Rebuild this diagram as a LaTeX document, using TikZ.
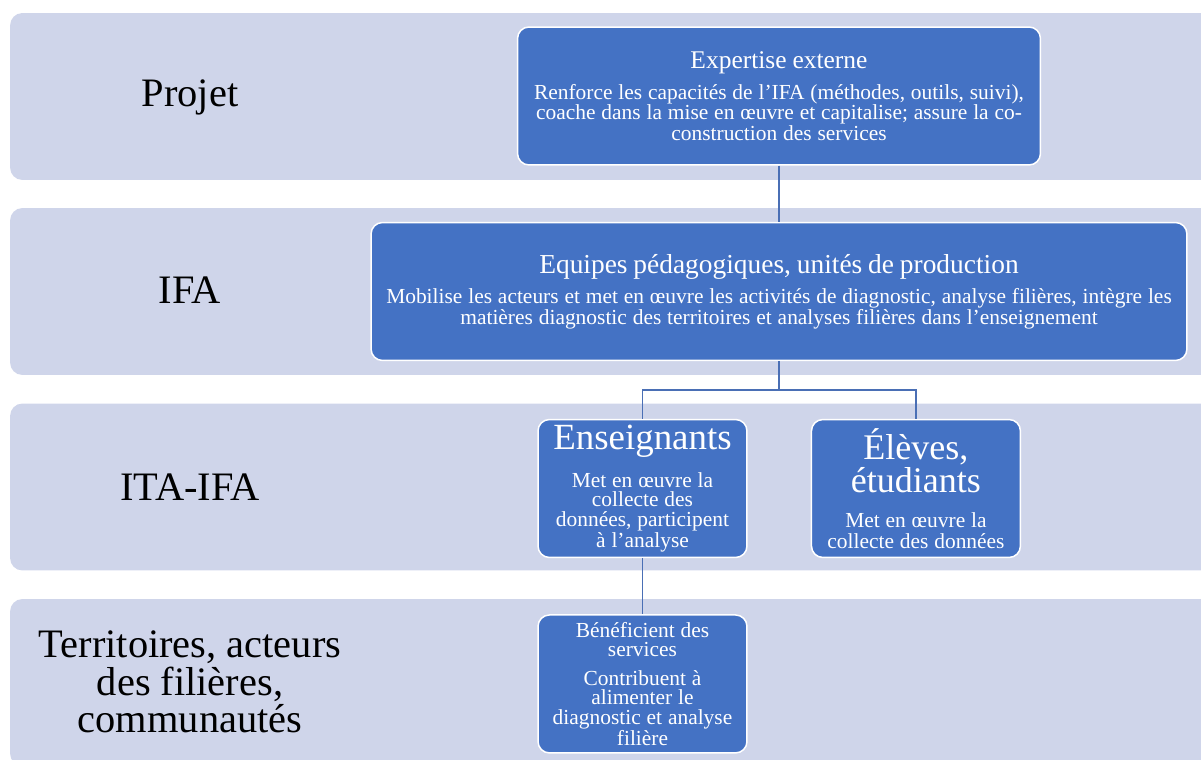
\documentclass[tikz,border=0pt]{standalone}
\usepackage{fontspec}
\setmainfont{Liberation Serif}
\usepackage{xcolor}
\usetikzlibrary{positioning}
\definecolor{bandfill}{HTML}{CFD5EA}
\definecolor{boxfill}{HTML}{4472C4}
\definecolor{linkblue}{HTML}{4A6FB5}
\newcommand\bandfont{\fontsize{23}{21.3}\selectfont}
\newcommand\boxbody{\fontsize{12.2}{11.2}\selectfont}
\newcommand\headsize[2]{\fontsize{#1}{#2}\selectfont}
\tikzset{
  band/.style={fill=bandfill, rounded corners=7pt, minimum width=24.2cm, minimum height=3.34cm, inner sep=0pt},
  bandlabel/.style={font=\bandfont, align=center, text=black},
  rolebox/.style={fill=boxfill, draw=white, line width=0.85pt, rounded corners=6.5pt, text=white,
                  inner sep=1pt, minimum height=2.76cm,
                  execute at begin node={\centering\lineskiplimit=-50pt\relax}},
  small/.style={minimum width=4.18cm, text width=4.11cm},
  link/.style={draw=linkblue, line width=0.85pt},
}

\begin{document}
\begin{tikzpicture}[x=0.02cm, y=-0.02cm]
  \useasboundingbox (0,0) rectangle (1201,760);
  \clip (0,0) rectangle (1201,760);

  % bands
  \node[band] (band1) at (615,96.5) {};
  \node[band] (band2) at (615,291.5) {};
  \node[band] (band3) at (615,487) {};
  \node[band] (band4) at (615,682.5) {};

  \node[bandlabel] (lab1) at (190,97) {Projet};
  \node[bandlabel] (lab2) at (190,290) {IFA};
  \node[bandlabel] (lab3) at (190,487) {ITA-IFA};
  \node[bandlabel] (lab4) at (190,682) {Territoires, acteurs\\des filières,\\communautés};

  % boxes
  \node[rolebox, minimum width=10.46cm, text width=10.39cm] (expert) at (779,96)
    {\headsize{14.5}{14.5}Expertise externe\\[6.9pt]
     \boxbody Renforce les capacités de l’IFA (méthodes, outils, suivi),\\
     coache dans la mise en œuvre et capitalise; assure la co-\\
     construction des services};
  \node[rolebox, minimum width=16.32cm, text width=16.25cm] (equipes) at (779,291.5)
    {\headsize{15.6}{15.6}Equipes pédagogiques, unités de production\\[5.9pt]
     \boxbody Mobilise les acteurs et met en œuvre les activités de diagnostic, analyse filières, intègre les\\
     matières diagnostic des territoires et analyses filières dans l’enseignement};
  \node[rolebox, small] (enseign) at (642.5,488.5)
    {\headsize{21}{21}Enseignants\\[10.4pt]
     \boxbody Met en œuvre la\\collecte des\\données, participent\\à l’analyse};
  \node[rolebox, small] (eleves) [right=1.26cm of enseign]
    {\headsize{20.5}{19}Élèves,\\étudiants\\[8.6pt]
     \boxbody Met en œuvre la\\collecte des données};
  \node[rolebox, small] (benef) [below=1.12cm of enseign]
    {\boxbody Bénéficient des\\services\\[4.8pt]
     Contribuent à\\alimenter le\\diagnostic et analyse\\filière};

  \draw[link] (expert.south) -- (equipes.north);
  \draw[link] (equipes.south) -- ++(0,29) -| (enseign.north);
  \draw[link] (equipes.south) -- ++(0,29) -| (eleves.north);
  \draw[link] (enseign.south) -- (benef.north);
\end{tikzpicture}
\end{document}
